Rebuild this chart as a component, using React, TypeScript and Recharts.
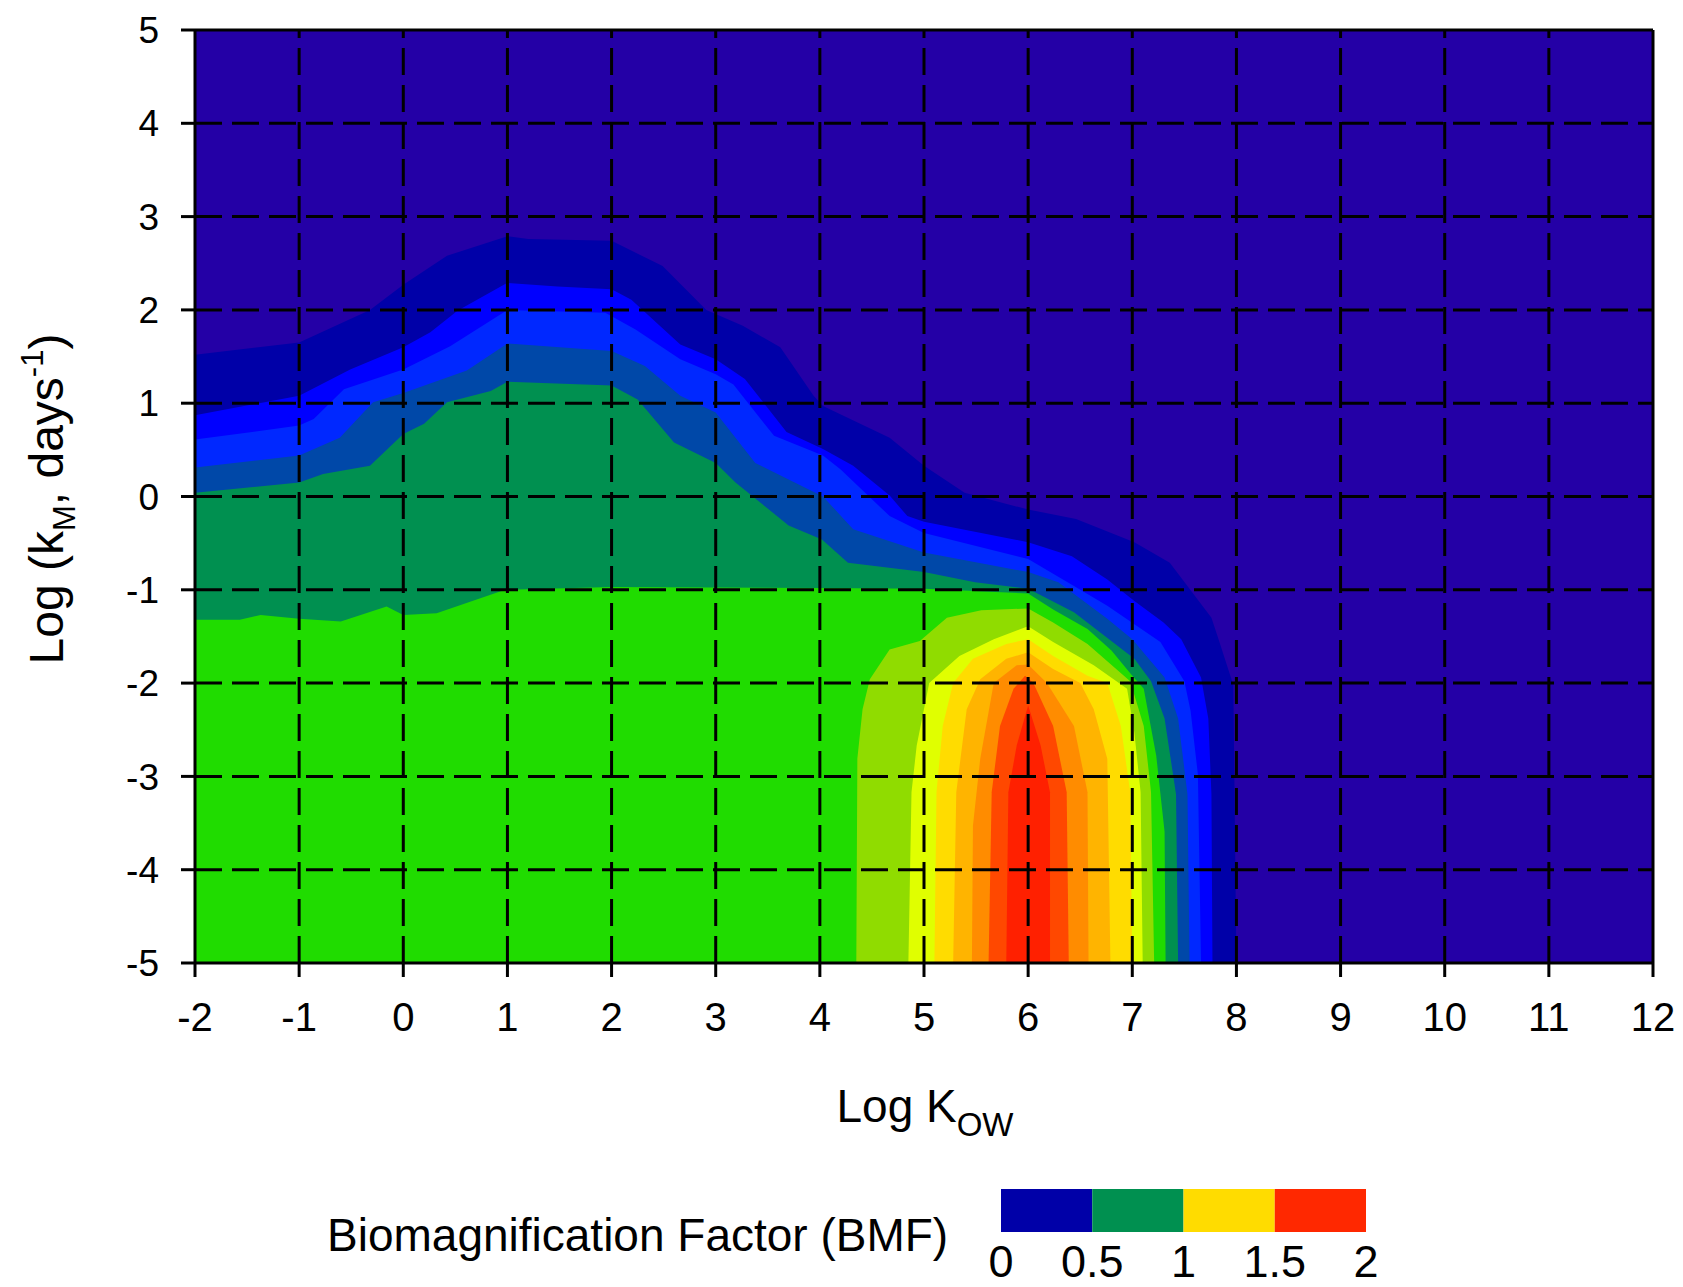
import { ComposedChart, Area, XAxis, YAxis, CartesianGrid, ReferenceLine } from "recharts"

const xTicks = [-2, -1, 0, 1, 2, 3, 4, 5, 6, 7, 8, 9, 10, 11, 12]
const yTicks = [-5, -4, -3, -2, -1, 0, 1, 2, 3, 4, 5]
const gridX = [-1, 0, 1, 2, 3, 4, 5, 6, 7, 8, 9, 10, 11]
const gridY = [-4, -3, -2, -1, 0, 1, 2, 3, 4]

// upper edge of each contour band as [log Kow, log kM]; bands fill down to -5
const navyEdge = [[-2, 1.52], [-1, 1.65], [-0.32, 2.0], [0, 2.27], [0.42, 2.58], [1, 2.79], [1.2, 2.76], [2, 2.74], [2.49, 2.47], [2.91, 2.0], [3.26, 1.83], [3.62, 1.6], [3.94, 1.08], [4.03, 0.97], [4.67, 0.63], [5.0, 0.33], [5.39, 0.04], [6.0, -0.14], [6.46, -0.24], [7.02, -0.49], [7.36, -0.71], [7.76, -1.3], [7.84, -1.57], [7.97, -2.02], [8.0, -5]]
const blue1Edge = [[-2, 0.87], [-1, 1.08], [-0.51, 1.36], [0, 1.6], [0.26, 1.76], [0.52, 1.99], [1, 2.29], [1.48, 2.25], [2, 2.22], [2.19, 2.11], [2.66, 1.63], [3, 1.47], [3.28, 1.26], [3.68, 0.69], [4.03, 0.51], [4.32, 0.33], [4.67, 0.01], [4.84, -0.21], [5.0, -0.27], [6.0, -0.49], [6.42, -0.64], [6.76, -0.89], [7.02, -1.12], [7.3, -1.35], [7.47, -1.53], [7.66, -1.94], [7.73, -2.38], [7.76, -3.19], [7.77, -5]]
const blue2Edge = [[-2, 0.61], [-1, 0.76], [-0.86, 0.83], [-0.57, 1.15], [0, 1.36], [0.45, 1.61], [1, 2.0], [1.94, 1.97], [2.23, 1.79], [2.66, 1.47], [3, 1.31], [3.17, 1.2], [3.56, 0.65], [4.03, 0.44], [4.2, 0.29], [4.67, -0.21], [5.0, -0.39], [6.0, -0.67], [6.44, -0.96], [6.76, -1.17], [7.27, -1.56], [7.5, -1.98], [7.56, -2.3], [7.63, -2.98], [7.66, -5]]
const steelEdge = [[-2, 0.31], [-1, 0.44], [-0.61, 0.63], [-0.29, 1.01], [0, 1.11], [0.61, 1.35], [1, 1.64], [2, 1.56], [2.32, 1.4], [2.66, 1.08], [3, 0.9], [3.38, 0.36], [3.56, 0.26], [4.03, 0.0], [4.32, -0.35], [4.62, -0.46], [5.0, -0.6], [6.0, -0.81], [6.29, -0.92], [6.76, -1.31], [7.0, -1.53], [7.31, -1.94], [7.44, -2.38], [7.53, -3.19], [7.55, -5]]
const tealEdge = [[-2, 0.04], [-1, 0.15], [-0.77, 0.24], [-0.32, 0.33], [0, 0.67], [0.2, 0.78], [0.42, 1.01], [0.84, 1.13], [1, 1.23], [2, 1.19], [2.25, 1.04], [2.6, 0.58], [3, 0.36], [3.19, 0.15], [3.7, -0.31], [4.02, -0.46], [4.27, -0.71], [5.0, -0.81], [5.49, -0.92], [6.0, -0.99], [6.44, -1.24], [7.02, -1.74], [7.18, -1.98], [7.31, -2.38], [7.42, -3.19], [7.44, -5]]
const greenEdge = [[-2, -1.32], [-1.57, -1.32], [-1.37, -1.27], [-1, -1.31], [-0.6, -1.34], [-0.16, -1.18], [0, -1.27], [0.32, -1.25], [0.95, -1.01], [1, -1.0], [2, -0.97], [4, -0.98], [5, -0.99], [6, -1.04], [6.24, -1.21], [6.57, -1.42], [6.8, -1.65], [7.0, -1.92], [7.11, -2.06], [7.23, -2.78], [7.31, -3.59], [7.32, -5]]
const ygEdge = [[4.35, -5], [4.36, -2.81], [4.41, -2.28], [4.48, -1.96], [4.67, -1.64], [4.96, -1.55], [5.22, -1.3], [5.55, -1.22], [6.0, -1.2], [6.24, -1.35], [6.57, -1.58], [6.98, -1.98], [7.11, -2.46], [7.18, -3.17], [7.21, -5]]
const limeEdge = [[4.85, -5], [4.88, -3.17], [4.93, -2.67], [5.05, -2.0], [5.34, -1.71], [5.67, -1.53], [6.0, -1.39], [6.24, -1.56], [6.63, -1.81], [6.95, -2.06], [7.02, -2.53], [7.08, -3.17], [7.1, -5]]
const goldEdge = [[5.1, -5], [5.12, -3.17], [5.18, -2.46], [5.28, -2.0], [5.47, -1.74], [5.79, -1.58], [6.0, -1.53], [6.24, -1.71], [6.57, -1.92], [6.76, -2.0], [6.89, -2.46], [6.98, -3.17], [7.0, -5]]
const amberEdge = [[5.28, -5], [5.31, -3.17], [5.41, -2.28], [5.54, -1.96], [5.79, -1.74], [6.0, -1.67], [6.24, -1.85], [6.5, -2.0], [6.63, -2.28], [6.76, -2.81], [6.79, -5]]
const orangeEdge = [[5.46, -5], [5.47, -3.53], [5.54, -2.81], [5.67, -2.0], [5.89, -1.81], [6.0, -1.8], [6.18, -2.0], [6.44, -2.46], [6.57, -3.17], [6.58, -5]]
const orangeRedEdge = [[5.62, -5], [5.65, -3.17], [5.73, -2.46], [5.86, -2.06], [5.97, -1.92], [6.05, -2.0], [6.24, -2.46], [6.37, -3.17], [6.39, -5]]
const redEdge = [[5.79, -5], [5.81, -3.17], [5.89, -2.67], [6.0, -2.24], [6.12, -2.67], [6.21, -3.17], [6.21, -5]]

const legendColors = ["#0000a8", "#009050", "#ffdc00", "#ff2800"]
const legendLabels = ["0", "0.5", "1", "1.5", "2"]

const bands = [
  { name: "navy", color: "#0000a8", edge: navyEdge },
  { name: "blue1", color: "#0000ff", edge: blue1Edge },
  { name: "blue2", color: "#0028ff", edge: blue2Edge },
  { name: "steel", color: "#0048a8", edge: steelEdge },
  { name: "teal", color: "#009050", edge: tealEdge },
  { name: "green", color: "#20dc00", edge: greenEdge },
  { name: "yg", color: "#90dc00", edge: ygEdge },
  { name: "lime", color: "#e0ff00", edge: limeEdge },
  { name: "gold", color: "#ffdc00", edge: goldEdge },
  { name: "amber", color: "#ffb400", edge: amberEdge },
  { name: "orange", color: "#ff8c00", edge: orangeEdge },
  { name: "orangeRed", color: "#ff4800", edge: orangeRedEdge },
  { name: "red", color: "#ff2000", edge: redEdge },
]

const FONT = "'Liberation Sans', Arial, sans-serif"

function YTitle() {
  return (
    <text transform="translate(55, 491) rotate(-90)" textAnchor="middle" fontSize={48} fill="#000" fontFamily={FONT}>
      Log (k<tspan fontSize={31} dy={12}>M</tspan>
      <tspan dy={-12}>, days</tspan>
      <tspan fontSize={31} dy={-20}>-1</tspan>
      <tspan dy={20}>)</tspan>
    </text>
  )
}

function XTitle() {
  return (
    <text x={917} y={1114} textAnchor="middle" fontSize={46} fill="#000" fontFamily={FONT}>
      Log K<tspan fontSize={33} dy={14}>OW</tspan>
    </text>
  )
}

function ColorBar() {
  const x0 = 993
  const w = 91.25
  return (
    <svg width={1675} height={160} style={{ position: "absolute", left: 0, top: 1140 }}>
      <text x={319} y={103} fontSize={46} fill="#000" fontFamily={FONT}>Biomagnification Factor (BMF)</text>
      {legendColors.map((c, i) => (
        <rect key={c} x={x0 + i * w} y={41} width={w} height={43} fill={c} />
      ))}
      {legendLabels.map((l, i) => (
        <text key={l} x={x0 + i * w} y={129} fontSize={45} textAnchor="middle" fill="#000" fontFamily={FONT}>{l}</text>
      ))}
    </svg>
  )
}

export default function App() {
  const xTickStyle = { fill: "#000", fontSize: 40, fontFamily: FONT }
  const yTickStyle = { fill: "#000", fontSize: 37, fontFamily: FONT }
  return (
    <div style={{ position: "relative", width: 1675, height: 1279, fontFamily: FONT }}>
      <ComposedChart width={1670} height={1140} margin={{ top: 21, right: 24, bottom: 105, left: 87 }}>
        <CartesianGrid fill="#2400a6" horizontal={false} vertical={false} />
        <XAxis
          type="number"
          dataKey="x"
          domain={[-2, 12]}
          ticks={xTicks}
          interval={0}
          allowDataOverflow
          height={80}
          tickSize={14}
          tickMargin={26}
          stroke="#000"
          strokeWidth={3}
          tick={xTickStyle}
          label={<XTitle />}
        />
        <XAxis xAxisId="top" orientation="top" type="number" domain={[-2, 12]} ticks={xTicks} interval={0} height={1} tickSize={14} stroke="#000" strokeWidth={3} tick={false} />
        <YAxis
          type="number"
          dataKey="y"
          domain={[-5, 5]}
          ticks={yTicks}
          interval={0}
          allowDataOverflow
          width={100}
          tickSize={14}
          tickMargin={22}
          stroke="#000"
          strokeWidth={3}
          tick={yTickStyle}
          label={<YTitle />}
        />
        <YAxis yAxisId="right" orientation="right" type="number" domain={[-5, 5]} ticks={yTicks} interval={0} width={1} tickSize={14} stroke="#000" strokeWidth={3} tick={false} />
        {bands.map((b) => (
          <Area
            key={b.name}
            data={b.edge.map(([x, y]) => ({ x, y }))}
            dataKey="y"
            type="linear"
            baseValue={-5}
            fill={b.color}
            fillOpacity={1}
            stroke="none"
            dot={false}
            activeDot={false}
            isAnimationActive={false}
          />
        ))}
        {gridX.map((v) => (
          <ReferenceLine key={"x" + v} x={v} stroke="#000" strokeWidth={3} strokeDasharray="27 10" />
        ))}
        {gridY.map((v) => (
          <ReferenceLine key={"y" + v} y={v} stroke="#000" strokeWidth={3} strokeDasharray="27 10" />
        ))}
      </ComposedChart>
      <ColorBar />
    </div>
  )
}
